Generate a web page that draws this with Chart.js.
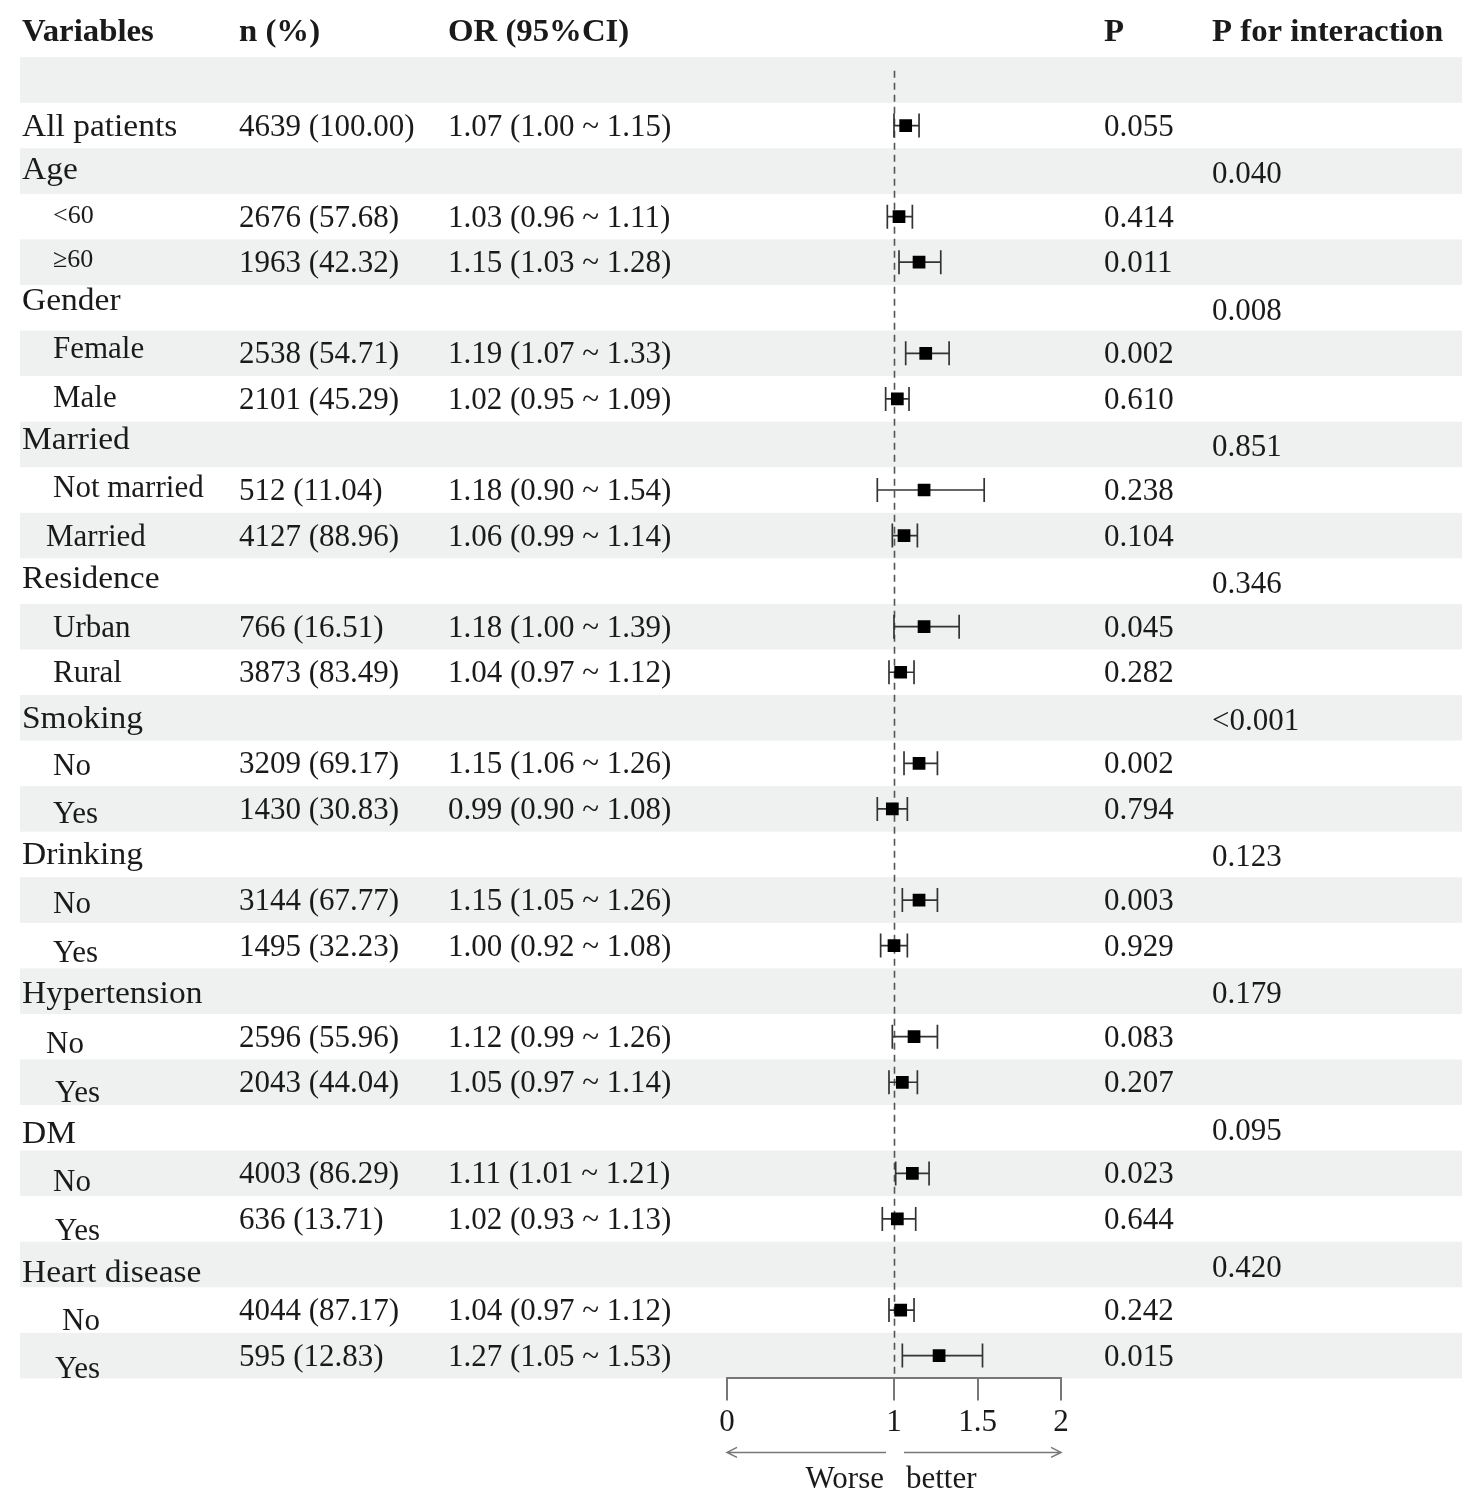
<!DOCTYPE html>
<html>
<head>
<meta charset="utf-8">
<script src="https://cdn.jsdelivr.net/npm/chart.js@4.4.1/dist/chart.umd.min.js"></script>
<style>
  html, body { margin: 0; padding: 0; background: #ffffff; }
  #wrap { width: 1477px; height: 1506px; position: relative; }
</style>
</head>
<body>
<div id="wrap"><canvas id="c" width="1477" height="1506"></canvas></div>
<script>
// ---------------- DATA ----------------
const headers = ["Variables", "n (%)", "OR (95%CI)", "P", "P for interaction"];
const labels = ["", "All patients", "Age", "<60", "≥60", "Gender", "Female", "Male",
  "Married", "Not married", "Married", "Residence", "Urban", "Rural",
  "Smoking", "No", "Yes", "Drinking", "No", "Yes",
  "Hypertension", "No", "Yes", "DM", "No", "Yes", "Heart disease", "No", "Yes"];
const nPct = ["", "4639 (100.00)", "", "2676 (57.68)", "1963 (42.32)", "", "2538 (54.71)", "2101 (45.29)",
  "", "512 (11.04)", "4127 (88.96)", "", "766 (16.51)", "3873 (83.49)",
  "", "3209 (69.17)", "1430 (30.83)", "", "3144 (67.77)", "1495 (32.23)",
  "", "2596 (55.96)", "2043 (44.04)", "", "4003 (86.29)", "636 (13.71)", "", "4044 (87.17)", "595 (12.83)"];
const orVals = [null, 1.07, null, 1.03, 1.15, null, 1.19, 1.02,
  null, 1.18, 1.06, null, 1.18, 1.04,
  null, 1.15, 0.99, null, 1.15, 1.00,
  null, 1.12, 1.05, null, 1.11, 1.02, null, 1.04, 1.27];
const ciLow = [null, 1.00, null, 0.96, 1.03, null, 1.07, 0.95,
  null, 0.90, 0.99, null, 1.00, 0.97,
  null, 1.06, 0.90, null, 1.05, 0.92,
  null, 0.99, 0.97, null, 1.01, 0.93, null, 0.97, 1.05];
const ciHigh = [null, 1.15, null, 1.11, 1.28, null, 1.33, 1.09,
  null, 1.54, 1.14, null, 1.39, 1.12,
  null, 1.26, 1.08, null, 1.26, 1.08,
  null, 1.26, 1.14, null, 1.21, 1.13, null, 1.12, 1.53];
const pVals = ["", "0.055", "", "0.414", "0.011", "", "0.002", "0.610",
  "", "0.238", "0.104", "", "0.045", "0.282",
  "", "0.002", "0.794", "", "0.003", "0.929",
  "", "0.083", "0.207", "", "0.023", "0.644", "", "0.242", "0.015"];
const pInteraction = ["", "", "0.040", "", "", "0.008", "", "",
  "0.851", "", "", "0.346", "", "",
  "<0.001", "", "", "0.123", "", "",
  "0.179", "", "", "0.095", "", "", "0.420", "", ""];
const xTicks = [0, 1, 1.5, 2];
const refValue = 1;
const directionLabels = ["Worse", "better"];

// ---------------- LAYOUT / STYLE ----------------
const labelX = [22, 22, 22, 53, 53, 22, 53, 53, 22, 53, 46, 22, 53, 53, 22, 53, 53, 22, 53, 53, 22, 46, 55, 22, 53, 55, 22, 62, 55];
const labelDy = [0, 0, -2, -2, -3, -8, -5, -2, -5, -3, 0, -3, 0, 0, 0, 2, 4, 0, 3, 6, 2, 6, 10, 5, 8, 11, 7, 10, 12];
const smallRows = [3, 4];
const colX = { n: 239, or: 448, p: 1104, pi: 1212 };
const headerX = [22, 239, 448, 1104, 1212];
const FONT = '"Liberation Serif", "Times New Roman", serif';
const TEXT = '#1a1a1a';
const BAND = '#eef1f0';
const LINE = '#333333';
const CAT_STRETCH = 1.08;

const orText = orVals.map((v, i) => v === null ? "" :
  `${v.toFixed(2)} (${ciLow[i].toFixed(2)} ~ ${ciHigh[i].toFixed(2)})`);

const rows = orVals.map((v, i) => i).filter(i => orVals[i] !== null);

const ciDatasets = rows.map(i => ({
  type: 'line',
  data: [{ x: ciLow[i], y: i }, { x: ciHigh[i], y: i }],
  borderColor: LINE,
  borderWidth: 1.7,
  pointRadius: 0,
  fill: false,
  order: 3
}));

const capDataset = {
  type: 'scatter',
  data: rows.flatMap(i => [{ x: ciLow[i], y: i }, { x: ciHigh[i], y: i }]),
  pointStyle: 'line',
  rotation: 90,
  pointRadius: 12,
  borderColor: LINE,
  borderWidth: 1.7,
  order: 2
};

const markerDataset = {
  type: 'scatter',
  data: rows.map(i => ({ x: orVals[i], y: i })),
  pointStyle: 'rect',
  pointRadius: 9,
  backgroundColor: '#000000',
  borderColor: '#000000',
  borderWidth: 0,
  order: 1
};

function stretchedText(ctx, txt, x, y, sx) {
  ctx.save();
  ctx.translate(x, y);
  ctx.scale(sx, 1);
  ctx.fillText(txt, 0, 0);
  ctx.restore();
}

const tablePlugin = {
  id: 'forestTable',
  beforeDraw(chart) {
    const ctx = chart.ctx, ys = chart.scales.y;
    ctx.save();
    ctx.fillStyle = BAND;
    for (let i = 0; i < labels.length; i += 2) {
      const t = ys.getPixelForValue(i - 0.5), b = ys.getPixelForValue(i + 0.5);
      ctx.fillRect(20, t, 1442, b - t);
    }
    ctx.restore();
  },
  beforeDatasetsDraw(chart) {
    const ctx = chart.ctx, ys = chart.scales.y, xs = chart.scales.x;
    ctx.save();
    ctx.strokeStyle = '#555555';
    ctx.lineWidth = 1.6;
    ctx.setLineDash([7, 5]);
    const rx = Math.round(xs.getPixelForValue(refValue)) + 0.5;
    ctx.beginPath();
    ctx.moveTo(rx, ys.getPixelForValue(-0.2));
    ctx.lineTo(rx, chart.chartArea.bottom);
    ctx.stroke();
    ctx.restore();
  },
  afterDraw(chart) {
    const ctx = chart.ctx, ys = chart.scales.y, xs = chart.scales.x;
    ctx.save();
    ctx.fillStyle = TEXT;
    ctx.textAlign = 'left';
    ctx.textBaseline = 'alphabetic';
    // headers
    ctx.font = 'bold 32px ' + FONT;
    const hy = ys.getPixelForValue(-1) + 7;
    headers.forEach((h, k) => stretchedText(ctx, h, headerX[k], hy, 1.025));
    // rows
    for (let i = 0; i < labels.length; i++) {
      const y = ys.getPixelForValue(i) + 10;
      if (labels[i]) {
        if (smallRows.includes(i)) {
          ctx.font = '26px ' + FONT;
          ctx.fillText(labels[i], labelX[i], y - 2 + labelDy[i]);
        } else if (labelX[i] === 22) {
          ctx.font = '31px ' + FONT;
          stretchedText(ctx, labels[i], labelX[i], y + labelDy[i], CAT_STRETCH);
        } else {
          ctx.font = '31px ' + FONT;
          ctx.fillText(labels[i], labelX[i], y + labelDy[i]);
        }
      }
      ctx.font = '31px ' + FONT;
      if (nPct[i]) ctx.fillText(nPct[i], colX.n, y);
      if (orText[i]) ctx.fillText(orText[i], colX.or, y);
      if (pVals[i]) ctx.fillText(pVals[i], colX.p, y);
      if (pInteraction[i]) ctx.fillText(pInteraction[i], colX.pi, y + 2);
    }
    // direction arrows
    const ay = chart.chartArea.bottom + 74;
    const x0 = xs.getPixelForValue(xTicks[0]);
    const x2 = xs.getPixelForValue(xTicks[xTicks.length - 1]);
    const xl = xs.getPixelForValue(refValue) - 8;
    const xr = xs.getPixelForValue(refValue) + 10;
    ctx.strokeStyle = '#777777';
    ctx.lineWidth = 1.5;
    ctx.beginPath();
    ctx.moveTo(x0, ay); ctx.lineTo(xl, ay);
    ctx.moveTo(x0 + 10, ay - 5); ctx.lineTo(x0, ay); ctx.lineTo(x0 + 10, ay + 5);
    ctx.moveTo(xr, ay); ctx.lineTo(x2, ay);
    ctx.moveTo(x2 - 10, ay - 5); ctx.lineTo(x2, ay); ctx.lineTo(x2 - 10, ay + 5);
    ctx.stroke();
    ctx.font = '31px ' + FONT;
    ctx.fillStyle = TEXT;
    ctx.textAlign = 'right';
    ctx.fillText(directionLabels[0], xl - 2, ay + 36);
    ctx.textAlign = 'left';
    ctx.fillText(directionLabels[1], xr + 2, ay + 36);
    ctx.restore();
  }
};

new Chart(document.getElementById('c'), {
  data: { datasets: [...ciDatasets, capDataset, markerDataset] },
  options: {
    responsive: false,
    animation: false,
    devicePixelRatio: 1,
    events: [],
    layout: { padding: { left: 727, right: 416, top: 57.2, bottom: 0 } },
    plugins: { legend: { display: false }, tooltip: { enabled: false } },
    scales: {
      x: {
        type: 'linear',
        position: 'bottom',
        min: 0,
        max: 2,
        afterBuildTicks: (scale) => { scale.ticks = xTicks.map(v => ({ value: v })); },
        afterFit: (scale) => { scale.height = 127.6; },
        grid: { drawOnChartArea: false, drawTicks: true, tickLength: 22, tickColor: '#777777', lineWidth: 2 },
        border: { display: true, color: '#777777', width: 2 },
        ticks: {
          color: TEXT,
          padding: 4,
          font: { family: FONT, size: 31 },
          callback: (v) => String(v),
          autoSkip: false,
          maxRotation: 0
        }
      },
      y: {
        type: 'linear',
        reverse: true,
        min: -0.5,
        max: 28.5,
        display: false
      }
    }
  },
  plugins: [tablePlugin]
});
</script>
</body>
</html>
